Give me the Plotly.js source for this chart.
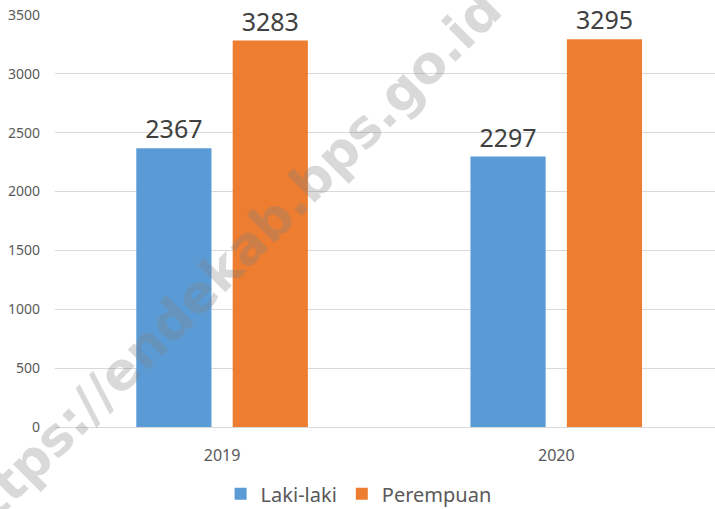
<!DOCTYPE html>
<html>
<head>
<meta charset="utf-8">
<script src="https://cdn.plot.ly/plotly-3.0.1.min.js"></script>
<style>html,body{margin:0;padding:0;background:#fff;}#chart{width:715px;height:509px;}</style>
</head>
<body>
<div id="chart"></div>
<script>
var years = ['2019', '2020'];
var lakiLaki = [2367, 2297];
var perempuan = [3283, 3295];
var seriesNames = ['Laki-laki', 'Perempuan'];
var yTicks = [0, 500, 1000, 1500, 2000, 2500, 3000, 3500];
var watermark = 'https://endekab.bps.go.id';

var labelFont = {family: 'Noto Sans, sans-serif', size: 25, color: '#404040'};

var traces = [
  {type: 'bar', name: seriesNames[0], x: years, y: lakiLaki, marker: {color: '#5B9BD5'},
   text: lakiLaki.map(String), textposition: 'outside', textfont: labelFont, cliponaxis: false, hoverinfo: 'none'},
  {type: 'bar', name: seriesNames[1], x: years, y: perempuan, marker: {color: '#ED7D31'},
   text: perempuan.map(String), textposition: 'outside', textfont: labelFont, cliponaxis: false, hoverinfo: 'none'}
];

var layout = {
  width: 715, height: 509,
  margin: {l: 55, r: 0, t: 15, b: 82, autoexpand: false},
  paper_bgcolor: '#ffffff', plot_bgcolor: '#ffffff',
  barmode: 'group', bargap: 0.423, bargroupgap: 0.22,
  font: {family: 'Noto Sans, sans-serif', color: '#595959'},
  xaxis: {type: 'category', range: [-0.5, 1.475], showgrid: false, zeroline: false, automargin: false,
          showline: false, ticks: '', tickfont: {size: 16, color: '#595959'}, ticklabelstandoff: 17, fixedrange: true},
  yaxis: {range: [0, 3500], tickvals: yTicks, ticktext: yTicks.map(String), showgrid: true, gridcolor: '#d9d9d9', gridwidth: 1,
          zeroline: true, zerolinecolor: '#d9d9d9', zerolinewidth: 1, showline: false, ticks: '', automargin: false,
          tickfont: {size: 14, color: '#595959'}, ticklabelstandoff: 14, fixedrange: true},
  showlegend: true,
  legend: {orientation: 'h', x: 0.46, xanchor: 'center', yref: 'container', y: 0.03, yanchor: 'middle',
           font: {size: 20, color: '#595959'}, itemclick: false, traceorder: 'normal'},
  annotations: [{
    text: '<b>' + watermark + '</b>', xref: 'paper', yref: 'paper',
    x: (224 - 55) / 660, y: (427 - 268) / 412, xanchor: 'center', yanchor: 'middle',
    showarrow: false, textangle: -45,
    font: {family: 'DejaVu Sans, sans-serif', size: 52, color: 'rgba(128,128,128,0.3)'}
  }]
};

Plotly.newPlot('chart', traces, layout, {displayModeBar: false, staticPlot: true});
</script>
</body>
</html>
